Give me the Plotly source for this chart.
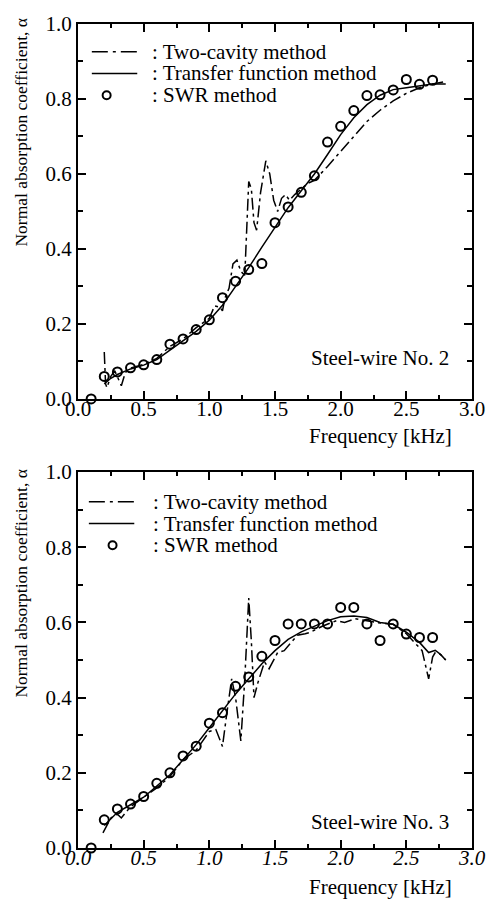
import plotly.graph_objects as go

# ---------------- Steel-wire No. 2 ----------------
swr2_f = [0.1, 0.2, 0.3, 0.4, 0.5, 0.6, 0.7, 0.8, 0.9, 1.0, 1.1, 1.2, 1.3, 1.4,
          1.5, 1.6, 1.7, 1.8, 1.9, 2.0, 2.1, 2.2, 2.3, 2.4, 2.5, 2.6, 2.7]
swr2_a = [0.0, 0.06, 0.072, 0.083, 0.091, 0.105, 0.146, 0.16, 0.185, 0.211, 0.27,
          0.314, 0.345, 0.361, 0.47, 0.512, 0.551, 0.595, 0.685, 0.727, 0.769,
          0.809, 0.811, 0.824, 0.852, 0.839, 0.85]

tf2_f = [0.2, 0.25, 0.3, 0.4, 0.5, 0.6, 0.7, 0.8, 0.9, 1.0, 1.1, 1.2, 1.3, 1.4,
         1.5, 1.6, 1.7, 1.8, 1.9, 2.0, 2.1, 2.2, 2.3, 2.4, 2.5, 2.6, 2.7, 2.8]
tf2_a = [0.04, 0.055, 0.065, 0.08, 0.09, 0.105, 0.13, 0.155, 0.18, 0.21, 0.25,
         0.30, 0.35, 0.405, 0.458, 0.51, 0.555, 0.60, 0.652, 0.705, 0.75, 0.785,
         0.81, 0.825, 0.83, 0.835, 0.84, 0.84]

tc2_f = [0.20, 0.21, 0.22, 0.25, 0.28, 0.31, 0.33, 0.36, 0.40, 0.50, 0.60, 0.70,
         0.80, 0.90, 1.00, 1.04, 1.08, 1.10, 1.12, 1.15, 1.18, 1.21, 1.24, 1.27,
         1.30, 1.32, 1.34, 1.36, 1.39, 1.43, 1.46, 1.49, 1.52, 1.55, 1.58, 1.61,
         1.65, 1.70, 1.75, 1.80, 1.90, 2.00, 2.10, 2.20, 2.30, 2.40, 2.50, 2.60,
         2.70, 2.78]
tc2_a = [0.125, 0.04, 0.03, 0.06, 0.075, 0.05, 0.035, 0.07, 0.082, 0.092, 0.108,
         0.14, 0.16, 0.19, 0.215, 0.248, 0.245, 0.235, 0.27, 0.295, 0.36, 0.37,
         0.34, 0.33, 0.58, 0.56, 0.47, 0.45, 0.55, 0.635, 0.60, 0.53, 0.50, 0.535,
         0.545, 0.53, 0.545, 0.56, 0.575, 0.583, 0.62, 0.66, 0.70, 0.74, 0.77,
         0.795, 0.815, 0.83, 0.84, 0.845]

# ---------------- Steel-wire No. 3 ----------------
swr3_f = [0.1, 0.2, 0.3, 0.4, 0.5, 0.6, 0.7, 0.8, 0.9, 1.0, 1.1, 1.2, 1.3, 1.4,
          1.5, 1.6, 1.7, 1.8, 1.9, 2.0, 2.1, 2.2, 2.3, 2.4, 2.5, 2.6, 2.7]
swr3_a = [0.0, 0.075, 0.104, 0.117, 0.137, 0.172, 0.20, 0.245, 0.271, 0.332, 0.36,
          0.43, 0.455, 0.51, 0.552, 0.596, 0.596, 0.596, 0.596, 0.64, 0.64, 0.596,
          0.552, 0.596, 0.569, 0.56, 0.56]

tf3_f = [0.2, 0.3, 0.4, 0.5, 0.6, 0.7, 0.8, 0.9, 1.0, 1.1, 1.2, 1.3, 1.4, 1.5,
         1.6, 1.7, 1.8, 1.9, 2.0, 2.1, 2.2, 2.3, 2.4, 2.5, 2.6, 2.67, 2.72, 2.76, 2.8]
tf3_a = [0.06, 0.095, 0.115, 0.135, 0.165, 0.195, 0.235, 0.275, 0.32, 0.365, 0.41,
         0.45, 0.49, 0.525, 0.555, 0.575, 0.59, 0.605, 0.615, 0.617, 0.613, 0.60,
         0.595, 0.574, 0.547, 0.52, 0.526, 0.515, 0.50]

tc3_f = [0.19, 0.25, 0.30, 0.33, 0.40, 0.50, 0.60, 0.70, 0.80, 0.90, 1.00, 1.05,
         1.10, 1.13, 1.17, 1.20, 1.24, 1.27, 1.30, 1.32, 1.34, 1.37, 1.42, 1.455,
         1.52, 1.57, 1.62, 1.67, 1.73, 1.77, 1.86, 1.97, 2.03, 2.11, 2.27, 2.40,
         2.50, 2.62, 2.67, 2.70, 2.72, 2.76, 2.80]
tc3_a = [0.04, 0.08, 0.09, 0.08, 0.11, 0.135, 0.16, 0.19, 0.235, 0.26, 0.31, 0.315,
         0.27, 0.35, 0.45, 0.40, 0.285, 0.45, 0.665, 0.55, 0.40, 0.44, 0.495, 0.477,
         0.52, 0.525, 0.547, 0.566, 0.57, 0.574, 0.59, 0.605, 0.60, 0.61, 0.60,
         0.595, 0.57, 0.525, 0.45, 0.508, 0.52, 0.515, 0.50]

legend_labels = [": Two-cavity method", ": Transfer function method", ": SWR method"]
panel_labels = ["Steel-wire No. 2", "Steel-wire No. 3"]
x_title = "Frequency [kHz]"
y_title = "Normal absorption coefficient, α"

FONT = "Liberation Serif"
DASHDOT = "12px,4px,3px,4px"
W, H = 498, 903
ML, MR, MT, MB = 78, 21, 15, 55


def px(x):
    return (x - ML) / (W - ML - MR)


def py(y):
    return (H - MB - y) / (H - MT - MB)


fig = go.Figure()

panels = [
    ("x", "y", tc2_f, tc2_a, tf2_f, tf2_a, swr2_f, swr2_a),
    ("x2", "y2", tc3_f, tc3_a, tf3_f, tf3_a, swr3_f, swr3_a),
]
for xa, ya, tcf, tca, tff, tfa, sf, sa in panels:
    fig.add_trace(go.Scatter(x=tcf, y=tca, mode="lines", xaxis=xa, yaxis=ya,
                             line=dict(color="black", width=1.5, dash=DASHDOT),
                             showlegend=False))
    fig.add_trace(go.Scatter(x=tff, y=tfa, mode="lines", xaxis=xa, yaxis=ya,
                             line=dict(color="black", width=1.5),
                             showlegend=False))
    fig.add_trace(go.Scatter(x=sf, y=sa, mode="markers", xaxis=xa, yaxis=ya,
                             marker=dict(symbol="circle-open", size=9,
                                         color="black", line=dict(width=2)),
                             cliponaxis=False, showlegend=False))


def xaxis_style(italic=False):
    return dict(
        range=[0, 3], tick0=0, dtick=0.5, tickformat=".1f",
        ticks="inside", ticklen=8, tickwidth=1.5, tickcolor="black",
        ticklabelstandoff=-10,
        showline=True, linecolor="black", linewidth=2, mirror="allticks",
        showgrid=False, zeroline=False,
        minor=dict(dtick=0.25, ticks="inside", ticklen=4, tickwidth=1.5,
                   tickcolor="black", showgrid=False),
        tickfont=dict(family=FONT, size=21, color="black",
                      style="italic" if italic else "normal"),
    )


def yaxis_style():
    return dict(
        range=[0, 1], tick0=0, dtick=0.2, tickformat=".1f",
        ticks="inside", ticklen=8, tickwidth=1.5, tickcolor="black",
        showline=True, linecolor="black", linewidth=2, mirror="allticks",
        showgrid=False, zeroline=False,
        minor=dict(dtick=0.1, ticks="inside", ticklen=5, tickwidth=1.5,
                   tickcolor="black", showgrid=False),
        tickfont=dict(family=FONT, size=21, color="black"),
    )


top_dom = [py(394), 1.0]
bot_dom = [0.0, py(468)]

fig.update_layout(
    width=W, height=H,
    margin=dict(l=ML, r=MR, t=MT, b=MB),
    paper_bgcolor="white", plot_bgcolor="white",
    showlegend=False,
    xaxis=dict(xaxis_style(), domain=[0, 1], anchor="y"),
    yaxis=dict(yaxis_style(), domain=top_dom, anchor="x"),
    xaxis2=dict(xaxis_style(italic=True), domain=[0, 1], anchor="y2"),
    yaxis2=dict(yaxis_style(), domain=bot_dom, anchor="x2"),
)

annotations = []
shapes = []

# axis titles and panel labels
for title_y, ytitle_y, panel_y, label in [(432, 124, 353, panel_labels[0]),
                                          (887, 580, 822, panel_labels[1])]:
    annotations.append(dict(text=x_title, x=px(459), y=py(title_y), xref="paper",
                            yref="paper", xanchor="right", yanchor="middle",
                            showarrow=False,
                            font=dict(family=FONT, size=21, color="black")))
    annotations.append(dict(text=y_title, x=px(20), y=py(ytitle_y), xref="paper",
                            yref="paper", xanchor="center", yanchor="middle",
                            textangle=-90, showarrow=False,
                            font=dict(family=FONT, size=17.5, color="black")))
    annotations.append(dict(text=label, x=px(456), y=py(panel_y), xref="paper",
                            yref="paper", xanchor="right", yanchor="middle",
                            showarrow=False,
                            font=dict(family=FONT, size=21, color="black")))

# hand-drawn key for each panel
for rows, x0, x1, xc, xt in [((43, 65, 87), 92, 138, 107, 151),
                             ((498, 520, 542), 89, 135, 113, 152)]:
    shapes.append(dict(type="line", xref="paper", yref="paper",
                       x0=px(x0), x1=px(x1), y0=py(rows[0]), y1=py(rows[0]),
                       line=dict(color="black", width=1.5, dash="16px,5px,3px,5px")))
    shapes.append(dict(type="line", xref="paper", yref="paper",
                       x0=px(x0), x1=px(x1), y0=py(rows[1]), y1=py(rows[1]),
                       line=dict(color="black", width=1.5)))
    shapes.append(dict(type="circle", xref="paper", yref="paper",
                       xsizemode="pixel", ysizemode="pixel",
                       xanchor=px(xc), yanchor=py(rows[2]),
                       x0=-4, x1=4, y0=-4, y1=4,
                       line=dict(color="black", width=2)))
    for r, txt in zip(rows, legend_labels):
        annotations.append(dict(text=txt, x=px(xt), y=py(r), xref="paper",
                                yref="paper", xanchor="left", yanchor="middle",
                                showarrow=False,
                                font=dict(family=FONT, size=21, color="black")))

fig.update_layout(annotations=annotations, shapes=shapes)

fig.write_html("out.html")
